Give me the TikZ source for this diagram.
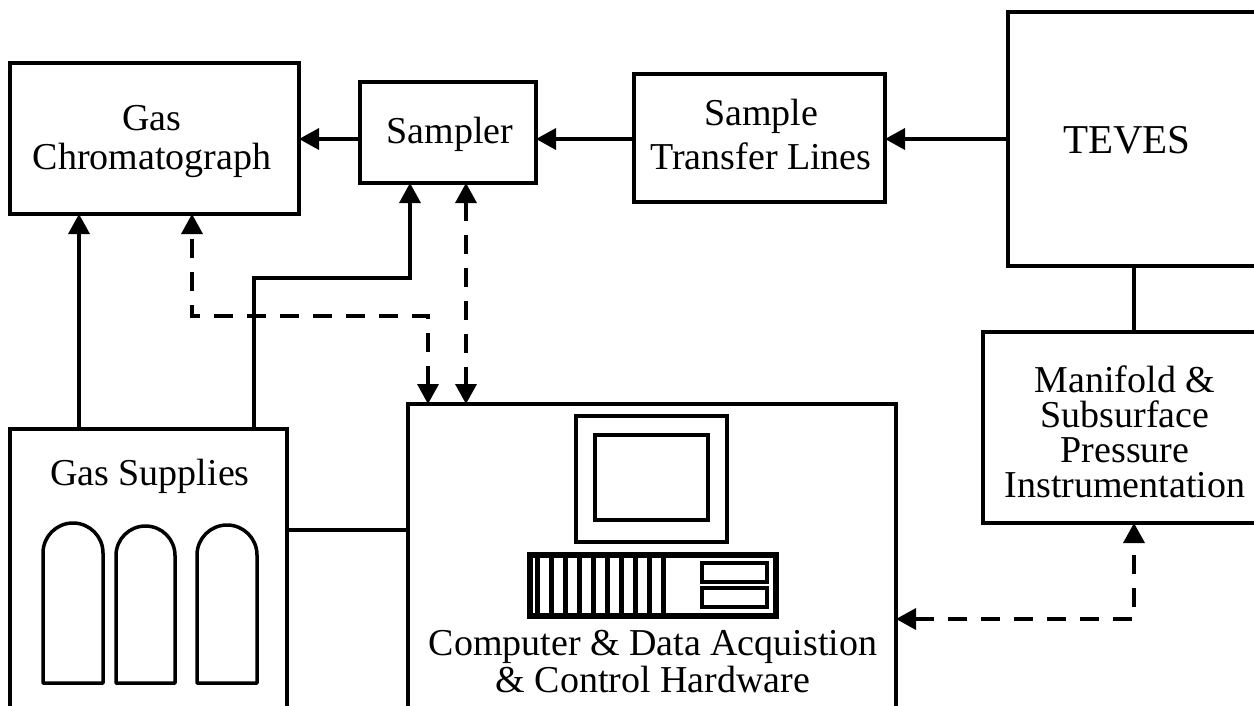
\documentclass[tikz,border=0pt]{standalone}
\usepackage{fontspec}
\setmainfont{Liberation Serif}
\usetikzlibrary{arrows.meta}
\begin{document}
\begin{tikzpicture}[x=1pt,y=-1pt,
  box/.style={draw, line width=3.5pt, rectangle, inner sep=0pt, outer sep=0pt},
  txt/.style={inner sep=0pt, anchor=base, font=\fontsize{38}{40}\selectfont},
  conn/.style={line width=3.5pt},
  arr/.style={line width=3.5pt, -{Triangle[length=20pt,width=21pt]}},
  dboth/.style={line width=3.5pt, dash pattern=on 19pt off 14pt,
     {Triangle[length=20pt,width=21pt]}-{Triangle[length=20pt,width=21pt]}},
  cyl/.style={line width=3.5pt, line join=round}]
\useasboundingbox (0,0) rectangle (1254,705);
\clip (0,0) rectangle (1254,705);
\fill[white] (0,0) rectangle (1254,705);

% boxes
\node[box, minimum width=289pt, minimum height=151pt] (gc) at (154.5,138.5) {};
\node[box, minimum width=176pt, minimum height=101pt] (sam) at (448,132.5) {};
\node[box, minimum width=251pt, minimum height=128pt] (stl) at (759.5,138) {};
\node[box, minimum width=262pt, minimum height=254pt] (teves) at (1139,139) {};
\node[box, minimum width=284pt, minimum height=191pt] (man) at (1125,427.5) {};
\node[box, minimum width=488pt, minimum height=345pt] (comp) at (652,576.5) {};
\node[box, minimum width=277pt, minimum height=320pt] (gas) at (148.5,589) {};

% texts
\node[txt] (gct1) at (152,130) {Gas};
\node[txt] (gct2) at (152,169) {Chromatograph};
\node[txt] (samt) at (450,143) {Sampler};
\node[txt] (stlt1) at (761,125) {Sample};
\node[txt] (stlt2) at (761,169) {Transfer Lines};
\node[txt, font=\fontsize{41}{43}\selectfont] (tevt) at (1127,153) {TEVES};
\node[txt] (mant1) at (1125,392) {Manifold \&};
\node[txt] (mant2) at (1125,427) {Subsurface};
\node[txt] (mant3) at (1125,462) {Pressure};
\node[txt] (mant4) at (1125,497) {Instrumentation};
\node[txt] (gast) at (150,485) {Gas Supplies};
\node[txt] (compt1) at (653,655) {Computer \& Data Acquistion};
\node[txt] (compt2) at (653,692) {\& Control Hardware};

% gas cylinders
\draw[cyl] (43,683) -- (43,553) arc[start angle=180, end angle=360, radius=30] -- (103,683) -- cycle;
\draw[cyl] (116,683) -- (116,555.5) arc[start angle=180, end angle=360, radius=29.5] -- (175,683) -- cycle;
\draw[cyl] (197,683) -- (197,555) arc[start angle=180, end angle=360, radius=30] -- (257,683) -- cycle;

% computer icon
\draw[line width=3.5pt] (576,416) rectangle (727,542);
\draw[line width=3.5pt] (595,435) rectangle (708,520);
\draw[line width=6pt] (530,555) rectangle (776,616);
\foreach \i in {0,...,9} {
  \draw[line width=5pt] (537.5+14*\i,557) -- (537.5+14*\i,614);
}
\draw[line width=3.5pt] (702,563) rectangle (767,582);
\draw[line width=3.5pt] (702,588) rectangle (767,607);

% coordinates
\coordinate (yl) at (0,139);
\coordinate (xm) at (1134,0);
\coordinate (m1) at (1134,619);
\coordinate (xg) at (79,0);
\coordinate (k1) at (254,278);
\coordinate (k2) at (410,278);
\coordinate (d1) at (192,316);
\coordinate (d2) at (428,316);
\coordinate (xs) at (466,0);
\coordinate (yg) at (0,530);

% connectors
\draw[arr] (sam.west |- yl) -- (gc.east |- yl);
\draw[arr] (stl.west |- yl) -- (sam.east |- yl);
\draw[arr] (teves.west |- yl) -- (stl.east |- yl);
\draw[conn] (teves.south -| xm) -- (man.north -| xm);
\draw[dboth] (comp.east |- m1) -- (m1) -- (man.south -| m1);
\draw[arr] (gas.north -| xg) -- (gc.south -| xg);
\draw[arr] (gas.north -| k1) -- (k1) -- (k2) -- (sam.south -| k2);
\draw[dboth] (comp.north -| d2) -- (d2) -- (d1) -- (gc.south -| d1);
\draw[dboth] (sam.south -| xs) -- (comp.north -| xs);
\draw[conn] (gas.east |- yg) -- (comp.west |- yg);
\end{tikzpicture}
\end{document}
